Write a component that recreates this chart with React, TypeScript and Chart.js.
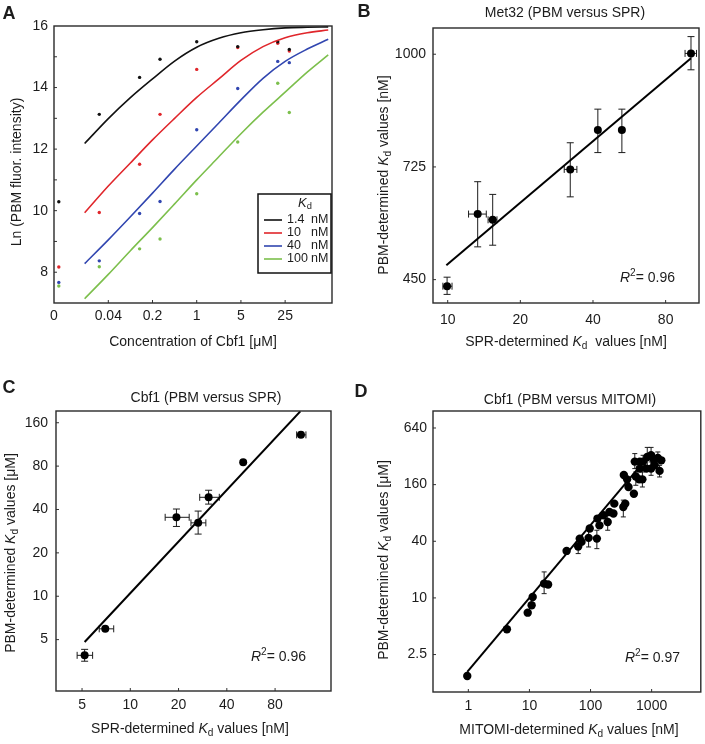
import React, { useEffect, useRef } from 'react';
import { Chart, registerables } from 'chart.js';

Chart.register(...registerables);

const FONT = '"Liberation Sans", Arial, Helvetica, sans-serif';
const INK = '#1c1c1c';

// ---------------- Panel A data ----------------
const A_CONC = [0, 0.0288, 0.125, 0.263, 1, 4.45, 19.1, 29.1]; // µM, 0 = no protein
const A_DOTS_1_4 = [10.29, 13.13, 14.33, 14.92, 15.49, 15.33, 15.49, 15.24];
const A_DOTS_10 = [8.17, 9.94, 11.51, 13.13, 14.59, 15.3, 15.44, 15.19];
const A_DOTS_40 = [7.67, 8.37, 9.91, 10.3, 12.63, 13.97, 14.85, 14.81];
const A_DOTS_100 = [7.55, 8.18, 8.76, 9.08, 10.55, 12.23, 14.14, 13.19];
const A_FIT_CONC = [0.0169, 0.04, 0.0894, 0.2, 0.447, 1, 2.236, 5, 11.18, 25, 55.9, 120];
const A_FIT_1_4 = [12.18, 12.99, 13.67, 14.28, 14.86, 15.31, 15.6, 15.78, 15.88, 15.94, 15.96, 15.97];
const A_FIT_10 = [9.93, 10.8, 11.55, 12.3, 13.0, 13.68, 14.28, 14.88, 15.33, 15.62, 15.78, 15.87];
const A_FIT_40 = [8.28, 9.05, 9.8, 10.57, 11.35, 12.1, 12.85, 13.6, 14.3, 14.85, 15.25, 15.57];
const A_FIT_100 = [7.14, 7.93, 8.7, 9.45, 10.22, 11.0, 11.75, 12.5, 13.2, 13.85, 14.5, 15.06];
const A_KD_LABELS = ['1.4', '10', '40', '100'];
const A_KD_UNIT = 'nM';
const A_COLORS = ['#111111', '#e0262b', '#3146b0', '#7cbf4c'];
const A_ZERO_POS = 0.0066; // where the "0" concentration column sits on the log axis
const A_X_MIN = 0.00554;
const A_X_MAX = 137.7;
const A_X_TICKS = [A_X_MIN, 0.04, 0.2, 1, 5, 25];
const A_X_LABELS = ['0', '0.04', '0.2', '1', '5', '25'];
const A_Y_TICKS = [7, 8, 9, 10, 11, 12, 13, 14, 15, 16];
const A_Y_LABELS = ['', '8', '', '10', '', '12', '', '14', '', '16'];

// ---------------- Panel B data ----------------
const B_X = [9.94, 13.31, 15.36, 32.2, 41.9, 52.7, 101.9];
const B_Y = [434, 610, 596, 719, 815, 815, 1002];
const B_X_LO = [9.55, 12.2, 14.7, 30.4, null, null, 96.3];
const B_X_HI = [10.42, 14.45, 16.0, 34.3, null, null, 107.4];
const B_Y_LO = [414, 530, 534, 652, 760, 760, 962];
const B_Y_HI = [456, 689, 658, 784, 866, 866, 1043];
const B_FIT_X = [9.87, 101.9];
const B_FIT_Y = [485, 990];
const B_X_TICKS = [10, 20, 40, 80];
const B_Y_TICKS = [450, 725, 1000];

// ---------------- Panel C data ----------------
const C_X = [5.19, 6.98, 19.4, 26.5, 30.8, 50.6, 116];
const C_Y = [3.89, 5.94, 35.3, 32.3, 48.6, 85, 131.8];
const C_X_LO = [4.66, 6.4, 16.5, 23.9, 27.1, null, 109];
const C_X_HI = [5.82, 7.88, 23.3, 29.6, 35.9, null, 124.6];
const C_Y_LO = [3.54, null, 30.5, 27, 43.6, null, null];
const C_Y_HI = [4.28, null, 40.3, 39, 54.4, null, null];
const C_FIT_X = [5.19, 115];
const C_FIT_Y = [4.81, 192];
const C_X_TICKS = [5, 10, 20, 40, 80];
const C_Y_TICKS = [5, 10, 20, 40, 80, 160];

// ---------------- Panel D data ----------------
const D_X = [0.96, 4.28, 9.37, 10.86, 11.3, 17.4, 20.2, 40.6, 62.8, 66.6, 71.2, 93.0, 97.0, 127, 130, 140, 163, 191, 204, 237, 245, 344, 370, 351, 397, 418, 512, 551, 625, 706, 530, 640, 725, 848, 980, 1080, 1265, 1349, 980, 821, 1118, 640, 1440];
const D_Y = [1.48, 4.65, 6.97, 8.36, 10.25, 14.2, 13.9, 31.6, 35.1, 42.7, 39.4, 43.5, 54.6, 42.7, 69.7, 59.0, 75.6, 64.2, 82, 79, 100.5, 92.7, 100.5, 203, 182, 151, 128, 195, 182, 182, 281, 281, 281, 315, 328, 298, 307, 224, 237, 237, 257, 237, 290];
const D_Y_LO = [null, null, null, null, null, 11.1, null, null, 29.6, null, null, 34.8, null, 33.4, null, null, null, 52.4, null, null, null, 72.6, null, null, null, null, null, 157.5, null, 151, 237, null, 237, 246.5, 237, null, 257, 193, 201, null, null, null, null];
const D_Y_HI = [null, null, null, null, null, 18.9, null, null, 39.4, null, null, 52.4, null, 52.4, null, null, null, 75.6, null, null, null, 109.5, null, null, null, null, null, 218, null, 218, 342, null, 328, 398, 398, null, 356, 257, 279, null, null, null, null];
const D_FIT_X = [0.96, 673];
const D_FIT_Y = [1.64, 259];
const D_X_TICKS = [1, 10, 100, 1000];
const D_Y_TICKS = [2.5, 10, 40, 160, 640];

// ---------------- helpers ----------------
type Seg = { t: string; it?: boolean; sub?: boolean; sup?: boolean; b?: boolean };

function segFont(s: Seg, size: number) {
  const sz = s.sub || s.sup ? size * 0.72 : size;
  return `${s.it ? 'italic ' : ''}${s.b ? 'bold ' : ''}${sz}px ${FONT}`;
}

function drawRich(ctx: CanvasRenderingContext2D, segs: Seg[], x: number, y: number, size: number, rot = false, align: 'left' | 'center' = 'center') {
  ctx.save();
  ctx.translate(x, y);
  if (rot) ctx.rotate(-Math.PI / 2);
  let w = 0;
  const widths = segs.map((s) => {
    ctx.font = segFont(s, size);
    const m = ctx.measureText(s.t).width;
    w += m;
    return m;
  });
  let cx = align === 'left' ? 0 : -w / 2;
  ctx.textBaseline = 'middle';
  ctx.textAlign = 'left';
  ctx.fillStyle = INK;
  segs.forEach((s, i) => {
    ctx.font = segFont(s, size);
    const dy = s.sub ? size * 0.3 : s.sup ? -size * 0.35 : 0;
    ctx.fillText(s.t, cx, dy);
    cx += widths[i];
  });
  ctx.restore();
}

const kdSegs = (pre: string, post: string): Seg[] => [{ t: pre }, { t: 'K', it: true }, { t: 'd', sub: true }, { t: post }];
const r2Segs = (v: string): Seg[] => [{ t: 'R', it: true }, { t: '2', sup: true }, { t: '= ' + v }];

const decoPlugin = {
  id: 'deco',
  beforeDatasetsDraw(chart: any) {
    const ctx = chart.ctx as CanvasRenderingContext2D;
    const xs = chart.scales.x;
    const ys = chart.scales.y;
    chart.data.datasets.forEach((ds: any) => {
      if (!ds.errors) return;
      const cap = ds.cap ?? 3.5;
      ctx.save();
      ctx.strokeStyle = INK;
      ctx.lineWidth = 1;
      ds.errors.forEach((e: any, i: number) => {
        const p = ds.data[i];
        const px = xs.getPixelForValue(p.x);
        const py = ys.getPixelForValue(p.y);
        ctx.beginPath();
        if (e.ylo != null && e.yhi != null) {
          const a = ys.getPixelForValue(e.ylo);
          const b = ys.getPixelForValue(e.yhi);
          ctx.moveTo(px, a); ctx.lineTo(px, b);
          ctx.moveTo(px - cap, a); ctx.lineTo(px + cap, a);
          ctx.moveTo(px - cap, b); ctx.lineTo(px + cap, b);
        }
        if (e.xlo != null && e.xhi != null) {
          const a = xs.getPixelForValue(e.xlo);
          const b = xs.getPixelForValue(e.xhi);
          ctx.moveTo(a, py); ctx.lineTo(b, py);
          ctx.moveTo(a, py - cap); ctx.lineTo(a, py + cap);
          ctx.moveTo(b, py - cap); ctx.lineTo(b, py + cap);
        }
        ctx.stroke();
      });
      ctx.restore();
    });
  },
  afterDraw(chart: any, _args: any, opts: any) {
    const ctx = chart.ctx as CanvasRenderingContext2D;
    const { left, right, top, bottom } = chart.chartArea;
    ctx.save();
    // inward tick marks
    ctx.strokeStyle = '#333';
    ctx.lineWidth = 1;
    const tl = 3;
    ctx.beginPath();
    chart.scales.x.ticks.forEach((t: any) => {
      const px = chart.scales.x.getPixelForValue(t.value);
      if (px > left + 1.5 && px < right - 1.5) {
        ctx.moveTo(px, bottom); ctx.lineTo(px, bottom - tl);
      }
    });
    chart.scales.y.ticks.forEach((t: any) => {
      const py = chart.scales.y.getPixelForValue(t.value);
      if (py > top + 1.5 && py < bottom - 1.5) {
        ctx.moveTo(left, py); ctx.lineTo(left + tl, py);
      }
    });
    ctx.stroke();
    // frame
    ctx.lineWidth = 1.4;
    ctx.strokeStyle = '#2a2a2a';
    ctx.strokeRect(left, top, right - left, bottom - top);
    ctx.restore();

    // texts
    drawRich(ctx, [{ t: opts.letter, b: true }], opts.letterXY[0], opts.letterXY[1], 18);
    if (opts.title) drawRich(ctx, [{ t: opts.title }], opts.titleXY[0], opts.titleXY[1], 14);
    drawRich(ctx, opts.xTitle, opts.xTitleXY[0], opts.xTitleXY[1], 14);
    drawRich(ctx, opts.yTitle, opts.yTitleXY[0], opts.yTitleXY[1], 14, true);
    if (opts.r2) drawRich(ctx, opts.r2, opts.r2XY[0], opts.r2XY[1], 14, false, 'left');

    if (opts.legend) {
      const lg = opts.legend;
      ctx.save();
      ctx.fillStyle = '#fff';
      ctx.fillRect(lg.x, lg.y, lg.w, lg.h);
      ctx.lineWidth = 1.5;
      ctx.strokeStyle = '#111';
      ctx.strokeRect(lg.x, lg.y, lg.w, lg.h);
      ctx.restore();
      drawRich(ctx, [{ t: 'K', it: true }, { t: 'd', sub: true }], lg.x + 47, lg.y + 9, 13);
      lg.labels.forEach((lab: string, i: number) => {
        const yy = lg.y + 26 + i * 13;
        ctx.save();
        ctx.strokeStyle = lg.colors[i];
        ctx.lineWidth = 1.6;
        ctx.beginPath();
        ctx.moveTo(lg.x + 6, yy);
        ctx.lineTo(lg.x + 24, yy);
        ctx.stroke();
        ctx.restore();
        drawRich(ctx, [{ t: lab }], lg.x + 29, yy, 12.5, false, 'left');
        drawRich(ctx, [{ t: lg.unit }], lg.x + 53, yy, 12.5, false, 'left');
      });
    }
  },
};

interface AxisSpec {
  type: 'linear' | 'logarithmic';
  min: number;
  max: number;
  ticks: number[];
  labels: string[];
  pad: number;
}
interface Area { left: number; top: number; right: number; bottom: number }

function scalesFor(x: AxisSpec, y: AxisSpec, area: Area, H: number) {
  const mk = (a: AxisSpec, isX: boolean) => ({
    type: a.type,
    min: a.min,
    max: a.max,
    bounds: 'data',
    position: isX ? 'bottom' : 'left',
    grid: { display: false, drawTicks: false },
    border: { display: false },
    title: { display: false },
    ticks: {
      autoSkip: false,
      maxRotation: 0,
      minRotation: 0,
      padding: a.pad,
      color: INK,
      font: { family: FONT, size: 14 },
      callback: (_v: any, i: number) => a.labels[i] ?? '',
    },
    afterBuildTicks: (s: any) => {
      s.ticks = a.ticks.map((v) => ({ value: v }));
    },
    afterFit: (s: any) => {
      if (isX) s.height = H - area.bottom;
      else s.width = area.left;
    },
  });
  return { x: mk(x, true), y: mk(y, false) };
}

function baseOptions(W: number, H: number, area: Area, x: AxisSpec, y: AxisSpec, deco: any) {
  return {
    responsive: false,
    maintainAspectRatio: false,
    animation: false,
    events: [],
    layout: { padding: { left: 0, top: area.top, right: W - area.right, bottom: 0 } },
    plugins: { legend: { display: false }, tooltip: { enabled: false }, title: { display: false }, deco },
    scales: scalesFor(x, y, area, H),
  };
}

const pts = (xs: number[], ys: number[]) => xs.map((v, i) => ({ x: v, y: ys[i] }));
const errs = (xlo: (number | null)[] | null, xhi: (number | null)[] | null, ylo: (number | null)[] | null, yhi: (number | null)[] | null, n: number) =>
  Array.from({ length: n }, (_, i) => ({
    xlo: xlo ? xlo[i] : null,
    xhi: xhi ? xhi[i] : null,
    ylo: ylo ? ylo[i] : null,
    yhi: yhi ? yhi[i] : null,
  }));

const fitLine = (xs: number[], ys: number[]) => ({
  data: pts(xs, ys),
  showLine: true,
  borderColor: '#000',
  borderWidth: 2,
  pointRadius: 0,
});

const markers = (xs: number[], ys: number[], e: any, r: number, cap: number) => ({
  data: pts(xs, ys),
  errors: e,
  cap,
  pointRadius: r,
  pointBackgroundColor: '#000',
  pointBorderWidth: 0,
  showLine: false,
});

// ---------------- panel configs ----------------
function configA(W: number, H: number) {
  const area = { left: 54, top: 26, right: 332, bottom: 303 };
  const dots = [A_DOTS_1_4, A_DOTS_10, A_DOTS_40, A_DOTS_100];
  const fits = [A_FIT_1_4, A_FIT_10, A_FIT_40, A_FIT_100];
  const datasets: any[] = [];
  fits.forEach((f, i) =>
    datasets.push({
      data: pts(A_FIT_CONC, f),
      showLine: true,
      borderColor: A_COLORS[i],
      borderWidth: 1.6,
      pointRadius: 0,
      cubicInterpolationMode: 'monotone',
    })
  );
  dots.forEach((d, i) =>
    datasets.push({
      data: A_CONC.map((c, j) => ({ x: c === 0 ? A_ZERO_POS : c, y: d[j] })),
      pointRadius: 1.7,
      pointBackgroundColor: A_COLORS[i],
      pointBorderWidth: 0,
      showLine: false,
    })
  );
  return {
    type: 'scatter',
    data: { datasets },
    options: baseOptions(
      W, H, area,
      { type: 'logarithmic', min: A_X_MIN, max: A_X_MAX, ticks: A_X_TICKS, labels: A_X_LABELS, pad: 5 },
      { type: 'linear', min: 7, max: 16, ticks: A_Y_TICKS, labels: A_Y_LABELS, pad: 6 },
      {
        letter: 'A', letterXY: [9, 14],
        xTitle: [{ t: 'Concentration of Cbf1 [μM]' }], xTitleXY: [193, 342],
        yTitle: [{ t: 'Ln (PBM fluor. intensity)' }], yTitleXY: [17, 172],
        legend: { x: 258, y: 194, w: 73, h: 79, labels: A_KD_LABELS, unit: A_KD_UNIT, colors: A_COLORS },
      }
    ),
  };
}

function configB(W: number, H: number) {
  const area = { left: 81, top: 28, right: 347, bottom: 303 };
  return {
    type: 'scatter',
    data: {
      datasets: [
        fitLine(B_FIT_X, B_FIT_Y),
        markers(B_X, B_Y, errs(B_X_LO, B_X_HI, B_Y_LO, B_Y_HI, B_X.length), 4, 3.5),
      ],
    },
    options: baseOptions(
      W, H, area,
      { type: 'logarithmic', min: 8.69, max: 110, ticks: B_X_TICKS, labels: B_X_TICKS.map(String), pad: 9 },
      { type: 'linear', min: 393, max: 1064, ticks: B_Y_TICKS, labels: B_Y_TICKS.map(String), pad: 7 },
      {
        letter: 'B', letterXY: [12, 12],
        title: 'Met32 (PBM versus SPR)', titleXY: [213, 13],
        xTitle: kdSegs('SPR-determined ', '  values [nM]'), xTitleXY: [214, 342],
        yTitle: kdSegs('PBM-determined ', ' values [nM]'), yTitleXY: [32, 175],
        r2: r2Segs('0.96'), r2XY: [268, 278],
      }
    ),
  };
}

function configC(W: number, H: number) {
  const area = { left: 56, top: 39, right: 331, bottom: 319 };
  return {
    type: 'scatter',
    data: {
      datasets: [
        fitLine(C_FIT_X, C_FIT_Y),
        markers(C_X, C_Y, errs(C_X_LO, C_X_HI, C_Y_LO, C_Y_HI, C_X.length), 4, 3.5),
      ],
    },
    options: baseOptions(
      W, H, area,
      { type: 'logarithmic', min: 3.44, max: 178.6, ticks: C_X_TICKS, labels: C_X_TICKS.map(String), pad: 6 },
      { type: 'logarithmic', min: 2.2, max: 193, ticks: C_Y_TICKS, labels: C_Y_TICKS.map(String), pad: 8 },
      {
        letter: 'C', letterXY: [9, 16],
        title: 'Cbf1 (PBM versus SPR)', titleXY: [206, 26],
        xTitle: kdSegs('SPR-determined ', ' values [nM]'), xTitleXY: [190, 357],
        yTitle: kdSegs('PBM-determined ', ' values [μM]'), yTitleXY: [11, 181],
        r2: r2Segs('0.96'), r2XY: [251, 285],
      }
    ),
  };
}

function configD(W: number, H: number) {
  const area = { left: 81, top: 39, right: 352, bottom: 320 };
  return {
    type: 'scatter',
    data: {
      datasets: [
        markers(D_X, D_Y, errs(null, null, D_Y_LO, D_Y_HI, D_X.length), 4.2, 2.5),
        fitLine(D_FIT_X, D_FIT_Y),
      ],
    },
    options: baseOptions(
      W, H, area,
      { type: 'logarithmic', min: 0.264, max: 6380, ticks: D_X_TICKS, labels: D_X_TICKS.map(String), pad: 6 },
      { type: 'logarithmic', min: 1.0, max: 970, ticks: D_Y_TICKS, labels: D_Y_TICKS.map(String), pad: 6 },
      {
        letter: 'D', letterXY: [9, 20],
        title: 'Cbf1 (PBM versus MITOMI)', titleXY: [218, 28],
        xTitle: kdSegs('MITOMI-determined ', ' values [nM]'), xTitleXY: [217, 358],
        yTitle: kdSegs('PBM-determined ', ' values [μM]'), yTitleXY: [32, 188],
        r2: r2Segs('0.97'), r2XY: [273, 286],
      }
    ),
  };
}

function Panel({ left, top, width, height, make }: { left: number; top: number; width: number; height: number; make: (w: number, h: number) => any }) {
  const ref = useRef<HTMLCanvasElement>(null);
  useEffect(() => {
    const cfg = make(width, height);
    cfg.plugins = [decoPlugin];
    const chart = new Chart(ref.current as HTMLCanvasElement, cfg);
    return () => chart.destroy();
  }, []);
  return (
    <div style={{ position: 'absolute', left, top, width, height }}>
      <canvas ref={ref} width={width} height={height} style={{ width, height, display: 'block' }} />
    </div>
  );
}

export default function App() {
  return (
    <div style={{ position: 'absolute', left: 0, top: 0, width: 705, height: 744, background: '#fff', overflow: 'hidden' }}>
      <Panel left={0} top={0} width={352} height={372} make={configA} />
      <Panel left={352} top={0} width={353} height={372} make={configB} />
      <Panel left={0} top={372} width={352} height={372} make={configC} />
      <Panel left={352} top={372} width={353} height={372} make={configD} />
    </div>
  );
}
